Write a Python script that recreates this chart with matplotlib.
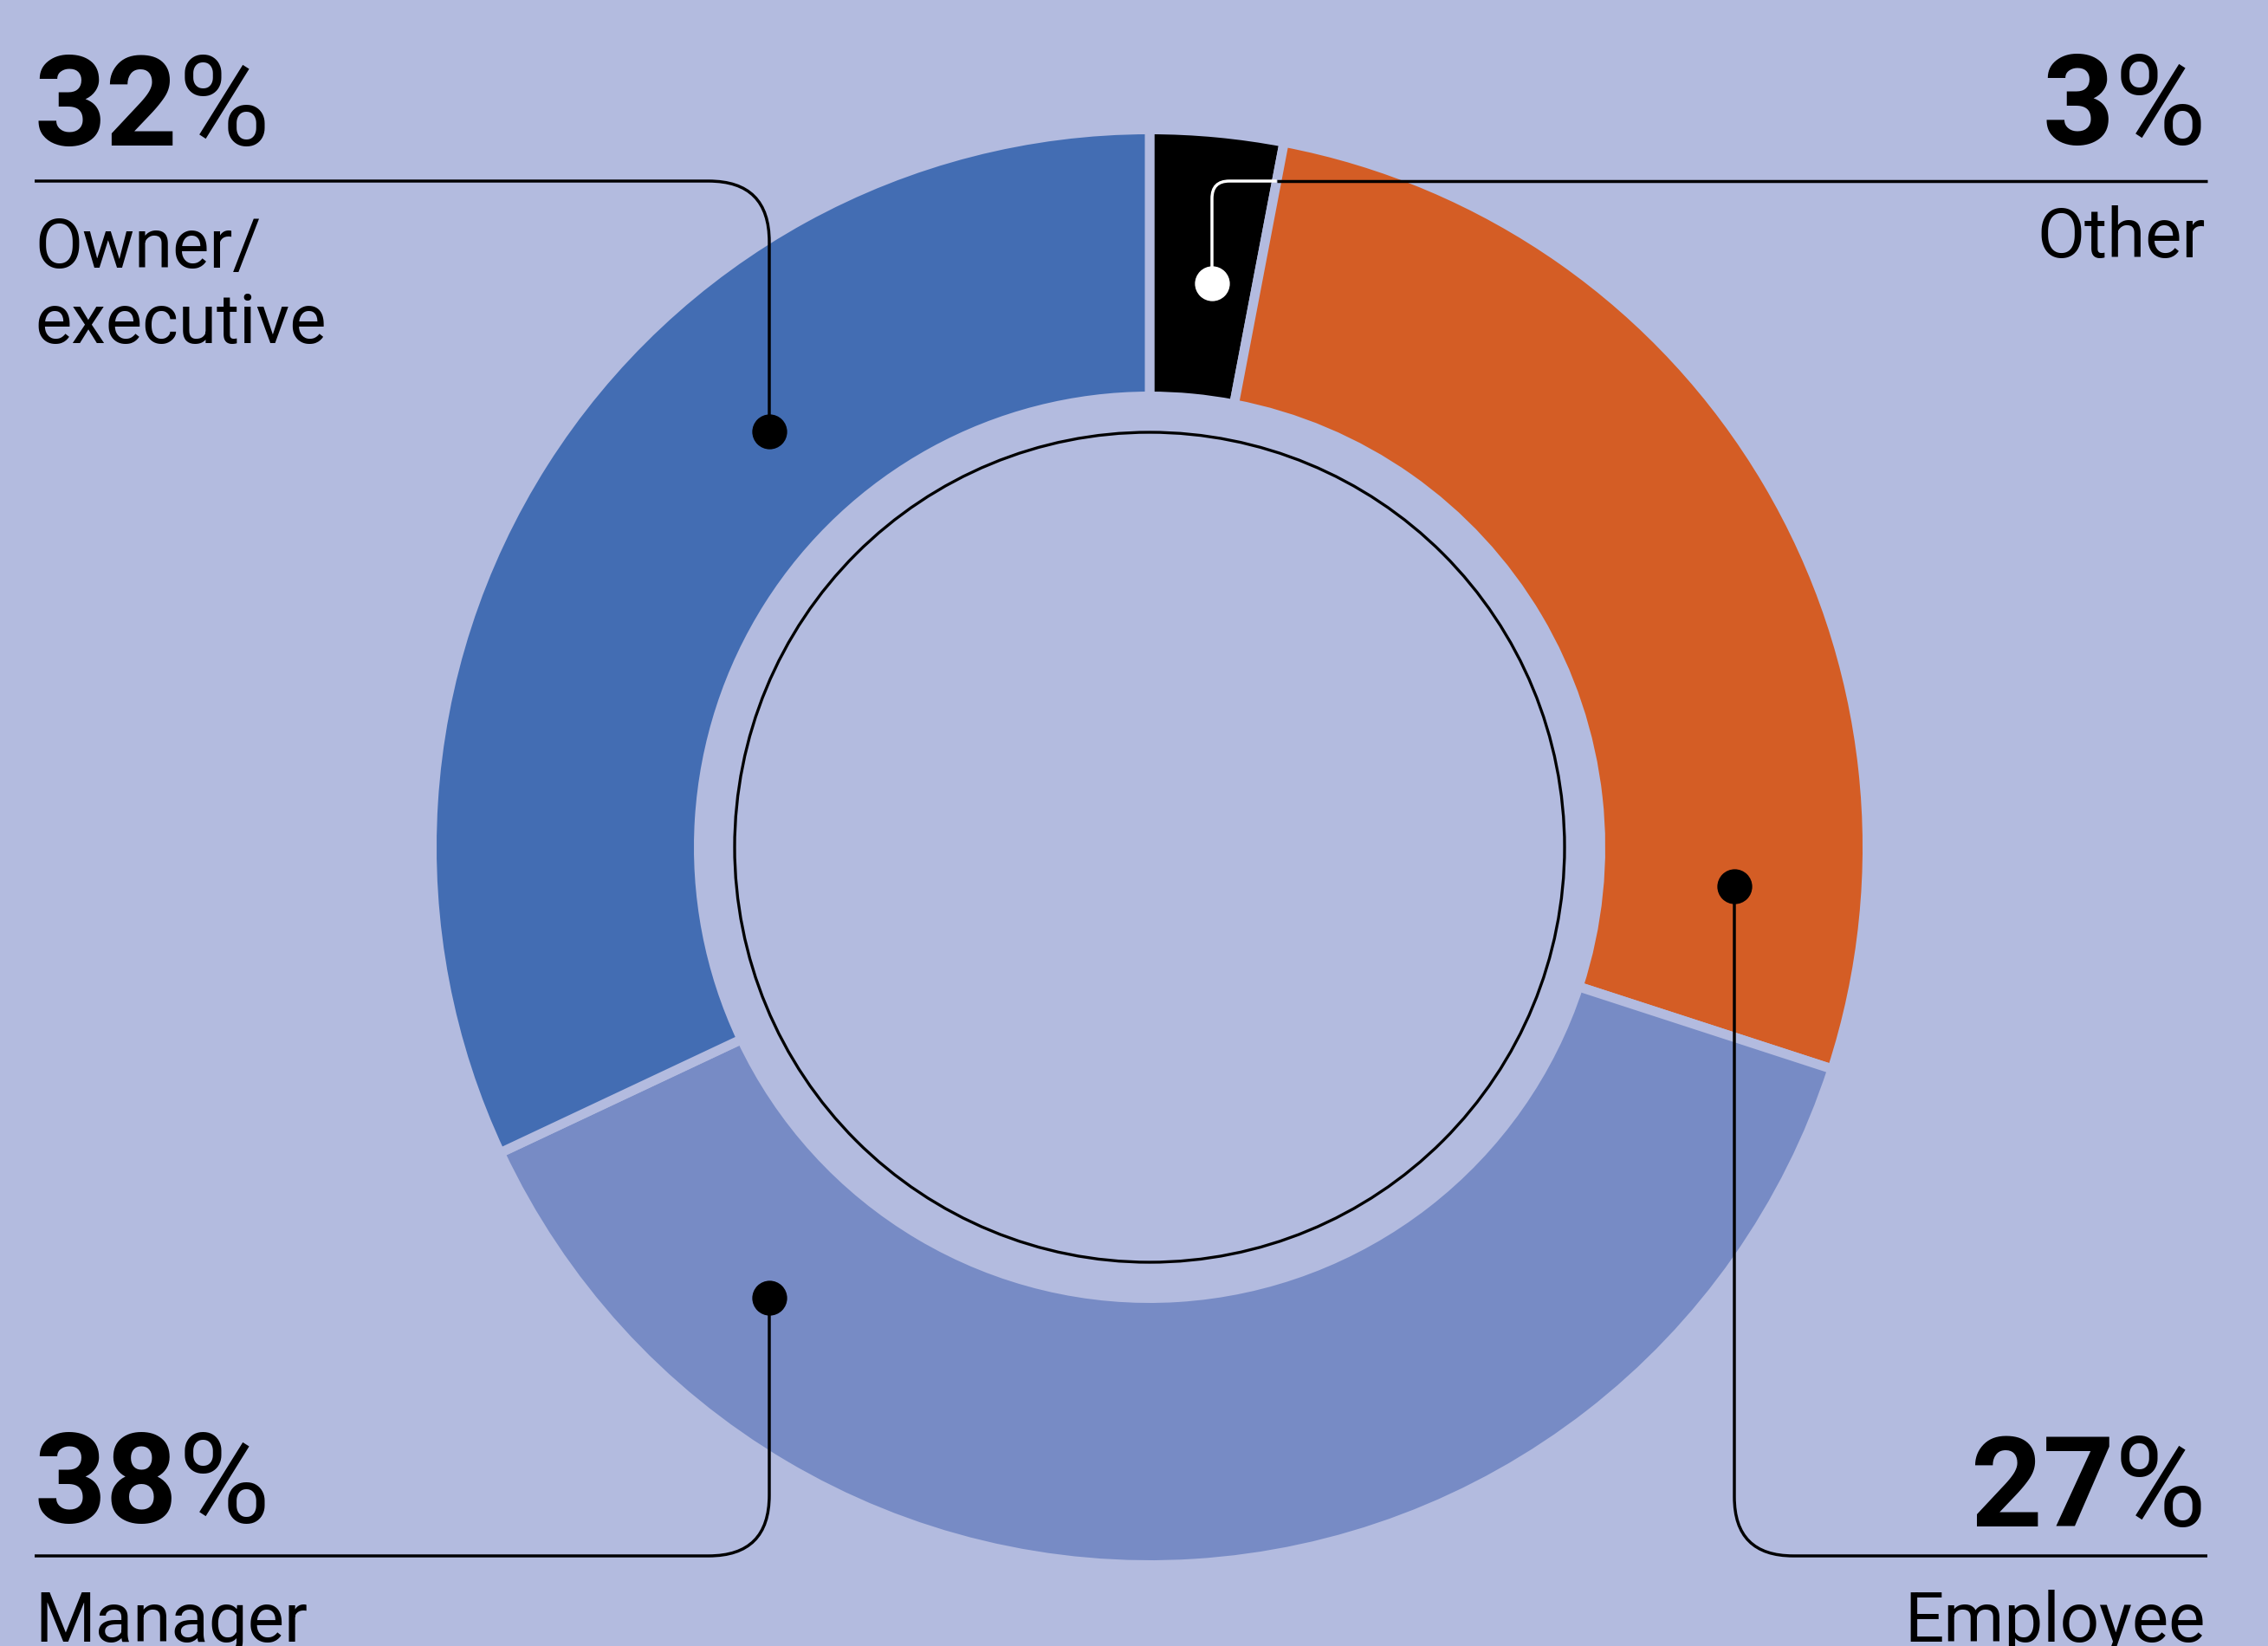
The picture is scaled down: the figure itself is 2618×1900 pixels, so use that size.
import numpy as np
import matplotlib.pyplot as plt
from matplotlib.path import Path
from matplotlib.patches import PathPatch, Circle

# share of respondents by role, clockwise from the top
roles = ["Other", "Employee", "Manager", "Owner/\nexecutive"]
shares = [3, 27, 38, 32]
colors = ["#000000", "#D45D25", "#778BC5", "#436DB3"]

bg = "#B3BBDF"
fam = ["Roboto", "DejaVu Sans"]

W, H = 2618, 1900
cx, cy = 1327, 978
r_out, r_in, r_circ = 823, 526, 479
gap = 11  # px of background between wedges

fig = plt.figure(figsize=(W / 100, H / 100), dpi=100)
fig.patch.set_facecolor(bg)
ax = fig.add_axes([0, 0, 1, 1])
ax.set_facecolor(bg)

# y axis is flipped below, so -90 is the top and counterclock runs clockwise on screen
ax.pie(shares, colors=colors, startangle=-90, counterclock=True,
       center=(cx, cy), radius=r_out + gap / 2,
       wedgeprops=dict(width=r_out - r_in + gap, edgecolor=bg,
                       linewidth=gap * 0.72))
ax.add_patch(Circle((cx, cy), r_circ, fill=False, ec="black", lw=2.4, zorder=3))

ax.set_xlim(0, W)
ax.set_ylim(H, 0)
ax.set_aspect("equal")
ax.axis("off")


def leader(x_end, y_line, x_stem, y_dot, rad, color="black"):
    side = np.sign(x_end - x_stem)
    down = np.sign(y_dot - y_line)
    verts = [(x_end, y_line), (x_stem + side * rad, y_line), (x_stem, y_line),
             (x_stem, y_line + down * rad), (x_stem, y_dot)]
    codes = [Path.MOVETO, Path.LINETO, Path.CURVE3, Path.CURVE3, Path.LINETO]
    ax.add_patch(PathPatch(Path(verts, codes), fill=False, ec=color, lw=2.5,
                           capstyle="butt", zorder=4))


def pct_label(x, y, value, ha):
    kw = dict(fontsize=104, family=fam, color="black", zorder=5)
    if ha == "left":
        t = ax.text(x, y, str(value), ha="left", va="baseline",
                    fontweight="bold", **kw)
        ax.annotate("%", xy=(1, 0), xycoords=t, ha="left", va="bottom",
                    fontweight="normal", **kw)
    else:
        t = ax.text(x, y, "%", ha="right", va="baseline",
                    fontweight="normal", **kw)
        ax.annotate(str(value), xy=(0, 0), xycoords=t, ha="right", va="bottom",
                    fontweight="bold", **kw)


def role_label(x, y, text, ha):
    for i, line in enumerate(text.split("\n")):
        ax.text(x, y + i * 87, line, ha=ha, va="baseline", fontsize=57.5,
                family=fam, fontweight="normal", color="black", zorder=5)


# where each callout sits: text corner, rule line, stem and dot
layout = {
    "Other":    dict(x=2546, ha="right", y_num=167, y_lab=297, y_line=209,
                     x_end=2548, stem=1399, dot=327, rad=20),
    "Employee": dict(x=2546, ha="right", y_num=1762, y_lab=1895, y_line=1796,
                     x_end=2548, stem=2002, dot=1023, rad=68),
    "Manager":  dict(x=40, ha="left", y_num=1758, y_lab=1895, y_line=1796,
                     x_end=40, stem=888, dot=1498, rad=70),
    "Owner/\nexecutive": dict(x=40, ha="left", y_num=168, y_lab=309, y_line=209,
                              x_end=40, stem=888, dot=498, rad=70),
}

start = 0
for role, share, col in zip(roles, shares, colors):
    lo = layout[role]
    pct_label(lo["x"], lo["y_num"], share, lo["ha"])
    role_label(lo["x"], lo["y_lab"], role, lo["ha"])
    if col == "#000000":
        # inside the black wedge the leader turns white
        edge = np.deg2rad((start + share) / 100 * 360)
        x_cut = cx + (cy - lo["y_line"]) * np.tan(edge)
        leader(x_cut, lo["y_line"], lo["stem"], lo["dot"], lo["rad"], color="white")
        ax.plot([x_cut, lo["x_end"]], [lo["y_line"]] * 2, color="black",
                lw=2.5, solid_capstyle="butt", zorder=4)
        dot_col = "white"
    else:
        leader(lo["x_end"], lo["y_line"], lo["stem"], lo["dot"], lo["rad"])
        dot_col = "black"
    ax.plot(lo["stem"], lo["dot"], "o", ms=29, color=dot_col, mec="none", zorder=6)
    start += share

fig.savefig("out.png", dpi=100, facecolor=bg)
